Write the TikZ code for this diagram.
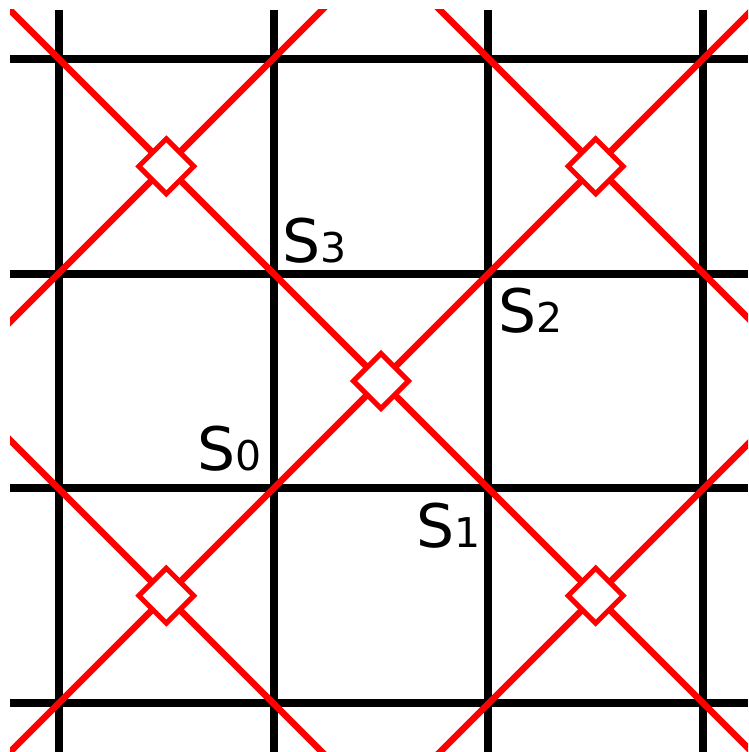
\documentclass[tikz,border=0pt]{standalone}
\usepackage{fontspec}
\setmainfont{DejaVu Sans}
\newcommand\sdigit[1]{{\fontsize{41}{41}\selectfont #1}}
\begin{document}
\begin{tikzpicture}[x=1pt,y=-1pt,
  gridline/.style={line width=8pt,black},
  redline/.style={line width=6.5pt,red},
  cellmark/.style={line width=5pt,red,fill=white,line join=miter},
  slabel/.style={anchor=base west,inner sep=0pt,font=\fontsize{60}{60}\selectfont}]
\useasboundingbox (0,0) rectangle (748,752);
\foreach \k in {0,1,2,3} {
  \pgfmathsetmacro\p{59+214.667*\k}
  \draw[gridline] (10,\p) -- (748,\p);
  \draw[gridline] (\p,10) -- (\p,752);
}
\begin{scope}
\clip (10,10) rectangle (748,752);
\draw[redline] (0,0) -- (760,760);
\draw[redline] (0,762) -- (762,0);
\draw[redline] (0,332) -- (332,0);
\draw[redline] (430,0) -- (760,330);
\draw[redline] (0,430) -- (330,760);
\draw[redline] (432,760) -- (760,432);
\end{scope}
\foreach \name/\cx/\cy in {d1/166.3/166.3, d2/595.7/166.3, d3/381/381, d4/166.3/595.7, d5/595.7/595.7} {
  \coordinate (\name) at (\cx,\cy);
  \draw[cellmark] (\name) +(-27.5,0) -- +(0,-27.5) -- +(27.5,0) -- +(0,27.5) -- cycle;
}
\node[slabel] (s3) at (282,262) {S\sdigit{3}};
\node[slabel] (s2) at (498,332) {S\sdigit{2}};
\node[slabel] (s0) at (197,470) {S\sdigit{0}};
\node[slabel] (s1) at (416,547) {S\sdigit{1}};
\end{tikzpicture}
\end{document}
